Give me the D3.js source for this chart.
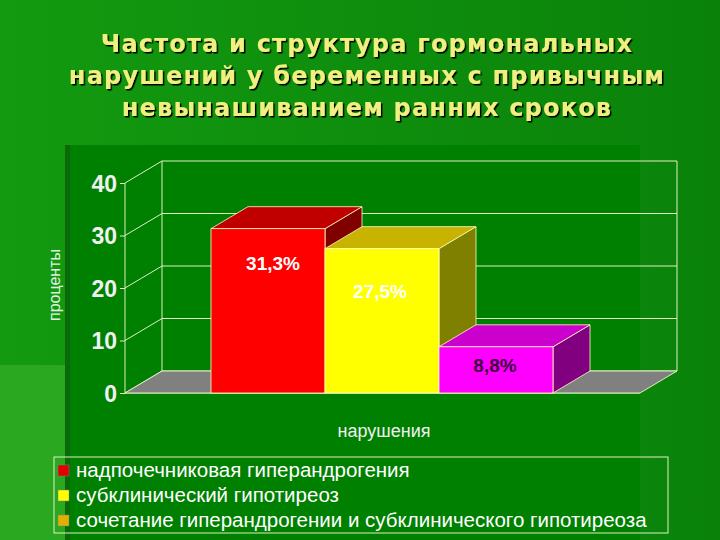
<!DOCTYPE html><html><head><meta charset="utf-8">
<script src="https://cdn.jsdelivr.net/npm/d3@7"></script>
<style>body{margin:0;background:#0d8f0d}svg{display:block}</style></head><body>
<script>
const categories=["надпочечниковая гиперандрогения","субклинический гипотиреоз","сочетание гиперандрогении и субклинического гипотиреоза"];
const values=[31.3,27.5,8.8];
const labels=["31,3%","27,5%","8,8%"];
const yTicks=[0,10,20,30,40];
const titleLines=["Частота и структура гормональных","нарушений у беременных с привычным","невынашиванием ранних сроков"];
const front=["#ff0000","#ffff00","#ff00ff"], topC=["#c00000","#c8b400","#cc00cc"], sideC=["#800000","#808000","#800080"];
const legendC=["#e00000","#ffff00","#e0b000"];
const labelC=["#ffffff","#ffffff","#400040"];

const svg=d3.select("body").append("svg").attr("width",720).attr("height",540);
const defs=svg.append("defs");
const g0=defs.append("linearGradient").attr("id","bg").attr("x1",0).attr("x2",1);
g0.append("stop").attr("offset","0").attr("stop-color","#139a10");
g0.append("stop").attr("offset","1").attr("stop-color","#0a820a");
const f=defs.append("filter").attr("id","sh");
f.append("feDropShadow").attr("dx",1.5).attr("dy",1.5).attr("stdDeviation",0.5).attr("flood-color","#000");
svg.append("rect").attr("width",720).attr("height",540).attr("fill","url(#bg)");
svg.append("rect").attr("x",0).attr("y",365).attr("width",65).attr("height",175).attr("fill","#2aa820");
svg.append("rect").attr("x",65).attr("y",145).attr("width",575).attr("height",395).attr("fill","#008000");
svg.append("rect").attr("x",65).attr("y",145).attr("width",5).attr("height",395).attr("fill","#0a6a0a");

titleLines.forEach((t,i)=>{
  svg.append("text").attr("x",367).attr("y",52+i*32).attr("text-anchor","middle").attr("filter","url(#sh)")
   .attr("font-family","DejaVu Sans").attr("font-weight","bold").attr("font-size",24).attr("letter-spacing",1.2).attr("fill","#f0f080").text(t);
});

const y=d3.scaleLinear().domain([0,40]).range([393,183]);
const x=d3.scaleBand().domain(d3.range(3)).range([211,553]).padding(0);
const DX=37,DY=-22, x0=125,x1=640;
const gr=svg.append("g").attr("stroke","#e0f0c0").attr("fill","none").attr("stroke-width",1);
svg.append("polygon").attr("points",[[x0,393],[x1,393],[x1+DX,393+DY],[x0+DX,393+DY]].join(" ")).attr("fill","#808080").attr("stroke","#e0f0c0");
gr.append("line").attr("x1",x0+DX).attr("x2",x0+DX).attr("y1",y(0)+DY).attr("y2",y(40)+DY);
gr.append("line").attr("x1",x1+DX).attr("x2",x1+DX).attr("y1",y(0)+DY).attr("y2",y(40)+DY);
yTicks.forEach(v=>{
  gr.append("line").attr("x1",x0+DX).attr("x2",x1+DX).attr("y1",y(v)+DY).attr("y2",y(v)+DY);
  gr.append("line").attr("x1",x0).attr("x2",x0+DX).attr("y1",y(v)).attr("y2",y(v)+DY);
});
gr.append("line").attr("x1",x0).attr("x2",x0).attr("y1",y(0)).attr("y2",y(40));
gr.append("line").attr("x1",x0).attr("x2",x1).attr("y1",y(0)).attr("y2",y(0));
svg.append("g").attr("transform",`translate(${x0},0)`).call(d3.axisLeft(y).tickValues(yTicks).tickSize(5).tickFormat(d3.format("d")))
 .call(a=>{a.select(".domain").remove();a.selectAll("line").attr("stroke","#e0f0c0");
  a.selectAll("text").attr("fill","#f0f0f0").attr("font-family","Liberation Sans").attr("font-weight","bold").attr("font-size",23).attr("dy","0.35em");});

values.forEach((v,i)=>{
  const xa=x(i),xb=x(i)+x.bandwidth(),yt=y(v),yb=y(0);
  svg.append("polygon").attr("points",[[xb,yt],[xb+DX,yt+DY],[xb+DX,yb+DY],[xb,yb]].join(" ")).attr("fill",sideC[i]).attr("stroke","#ffffc0").attr("stroke-width",.8);
  svg.append("polygon").attr("points",[[xa,yt],[xa+DX,yt+DY],[xb+DX,yt+DY],[xb,yt]].join(" ")).attr("fill",topC[i]).attr("stroke","#ffffc0").attr("stroke-width",.8);
  svg.append("rect").attr("x",xa).attr("y",yt).attr("width",xb-xa).attr("height",yb-yt).attr("fill",front[i]).attr("stroke","#ffffc0").attr("stroke-width",.8);
});
values.forEach((v,i)=>{
  const ly=[270,298,372][i];
  svg.append("text").attr("x",x(i)+x.bandwidth()/2+[5,-2,-1][i]).attr("y",ly).attr("text-anchor","middle")
   .attr("font-family","Liberation Sans").attr("font-weight","bold").attr("font-size",19).attr("fill",labelC[i]).text(labels[i]);
});
svg.append("text").attr("transform","translate(60,285) rotate(-90)").attr("text-anchor","middle")
 .attr("font-family","Liberation Sans").attr("font-size",16).attr("fill","#e0f0e0").text("проценты");
svg.append("text").attr("x",384).attr("y",437).attr("text-anchor","middle")
 .attr("font-family","Liberation Sans").attr("font-size",18).attr("fill","#f0f0f0").text("нарушения");

svg.append("rect").attr("x",54).attr("y",457).attr("width",614).attr("height",76).attr("fill","none").attr("stroke","#e0f0c0");
categories.forEach((c,i)=>{
  const yy=470+i*25;
  svg.append("rect").attr("x",58).attr("y",yy-5).attr("width",11).attr("height",11).attr("fill",legendC[i]).attr("stroke","#808080").attr("stroke-width",.5);
  svg.append("text").attr("x",76).attr("y",yy+7).attr("font-family","Liberation Sans").attr("font-size",20.5).attr("fill","#ffffff").text(c);
});
</script></body></html>
